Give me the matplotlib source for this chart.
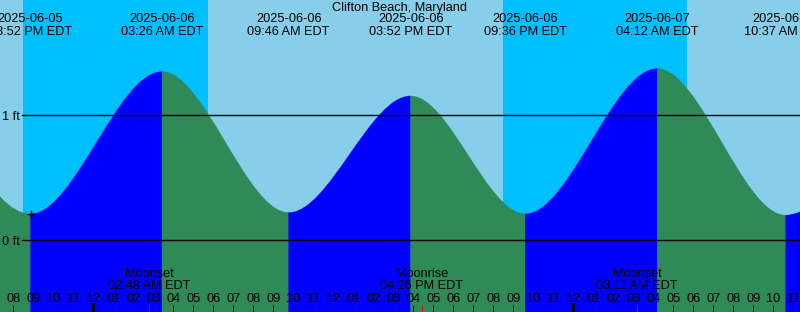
import matplotlib
matplotlib.use("Agg")
import matplotlib.pyplot as plt
import matplotlib.dates as mdates
from matplotlib.path import Path
from matplotlib.patches import PathPatch
import pandas as pd

plt.rcParams['font.family'] = ['Liberation Sans', 'DejaVu Sans']
plt.rcParams['font.size'] = 9.2

# ---------------- data ----------------
title = "Clifton Beach, Maryland"

# high / low tide events (time, height in ft)
event_times = [
    "2025-06-05 20:52", "2025-06-06 03:26", "2025-06-06 09:46", "2025-06-06 15:52",
    "2025-06-06 21:36", "2025-06-07 04:12", "2025-06-07 10:37",
]
event_heights = [0.21, 1.346, 0.221, 1.152, 0.21, 1.37, 0.20]

# water level at the left and right edges of the view
edge_times = ["2025-06-05 19:20", "2025-06-07 11:20"]
edge_heights = [0.348, 0.228]

night_starts = ["2025-06-05 20:29", "2025-06-06 20:30"]
night_ends = ["2025-06-06 05:43", "2025-06-07 05:42"]

moon_times = ["2025-06-06 02:48", "2025-06-06 16:26", "2025-06-07 03:11"]
moon_names = ["Moonset", "Moonrise", "Moonset"]

level_values = [0, 1]
level_labels = ["0 ft", "1 ft"]

y_low, y_high = -0.572, 1.918

# ---------------- colours ----------------
day_color = "#87CEEB"
night_color = "#00BFFF"
rise_color = "#0000FF"
fall_color = "#2E8B57"

W, H = 800, 312


def to_num(s):
    return mdates.date2num(pd.to_datetime(s).to_pydatetime())


fig = plt.figure(figsize=(W / 100, H / 100), dpi=100)
ax = fig.add_axes([0, 0, 1, 1])
ax.set_facecolor(day_color)
for sp in ax.spines.values():
    sp.set_visible(False)

ax.set_xlim(to_num(edge_times[0]), to_num(edge_times[1]))
ax.set_ylim(y_low, y_high)

# night bands
for s, e in zip(night_starts, night_ends):
    ax.axvspan(to_num(s), to_num(e), color=night_color, lw=0, zorder=0)

# tide curve: smooth path through the events, level (horizontal) at each extreme
ev_t = [to_num(s) for s in event_times]
pts_t = [to_num(edge_times[0])] + ev_t + [to_num(edge_times[1])]
pts_h = [edge_heights[0]] + event_heights + [edge_heights[1]]
n = len(pts_t)
bottom = y_low - 1
for k in range(n - 1):
    t0, h0, t1, h1 = pts_t[k], pts_h[k], pts_t[k + 1], pts_h[k + 1]
    col = rise_color if h1 > h0 else fall_color
    if k == 0:          # edge -> first extreme
        verts = [(t0, h0), ((t0 + t1) / 2, h1), (t1, h1)]
        codes = [Path.MOVETO, Path.CURVE3, Path.CURVE3]
    elif k == n - 2:    # last extreme -> edge
        verts = [(t0, h0), ((t0 + t1) / 2, h0), (t1, h1)]
        codes = [Path.MOVETO, Path.CURVE3, Path.CURVE3]
    else:               # extreme -> extreme
        d = (t1 - t0) / 3
        verts = [(t0, h0), (t0 + d, h0), (t1 - d, h1), (t1, h1)]
        codes = [Path.MOVETO, Path.CURVE4, Path.CURVE4, Path.CURVE4]
    verts += [(t1, bottom), (t0, bottom), (t0, h0)]
    codes += [Path.LINETO, Path.LINETO, Path.CLOSEPOLY]
    ax.add_patch(PathPatch(Path(verts, codes), facecolor=col, edgecolor=col,
                           lw=0.3, zorder=1))

# level lines
for v in level_values:
    ax.axhline(v, xmin=22 / W, xmax=1, color="black", lw=1.0, zorder=2)
ax.set_yticks(level_values)
ax.set_yticklabels(level_labels)
ax.tick_params(axis="y", length=0, pad=-14.4, labelsize=9.2)

# hour ticks
ax.xaxis.set_major_locator(mdates.DayLocator())
ax.xaxis.set_minor_locator(mdates.HourLocator())
ax.xaxis.set_major_formatter(mdates.DateFormatter("%I"))
ax.xaxis.set_minor_formatter(mdates.DateFormatter("%I"))
ax.tick_params(axis="x", which="minor", direction="in", length=5.0, width=0.72,
               pad=-14.0, labelsize=9.2, colors="black")
ax.tick_params(axis="x", which="major", direction="in", length=6.3, width=2.16,
               pad=-14.0, labelsize=9.2, colors="black")
for lab in ax.get_xticklabels(which="both"):
    lab.set_zorder(5)

# moon event ticks (red)
ax.vlines([to_num(s) for s in moon_times], 0, 7 / H, color="red", lw=0.72,
          transform=ax.get_xaxis_transform(), zorder=4)

trans = ax.get_xaxis_transform()
# top labels for tide events
for s in event_times:
    ts = pd.to_datetime(s)
    ax.text(to_num(s), 1 - 19.5 / H, ts.strftime("%Y-%m-%d"), transform=trans,
            ha="center", va="center", zorder=4)
    ax.text(to_num(s), 1 - 31.7 / H, ts.strftime("%I:%M %p") + " EDT", transform=trans,
            ha="center", va="center", zorder=4)

# moon labels
for s, nm in zip(moon_times, moon_names):
    ts = pd.to_datetime(s)
    ax.text(to_num(s), 1 - 274 / H, nm, transform=trans, ha="center", va="center", zorder=4)
    ax.text(to_num(s), 1 - 286 / H, ts.strftime("%I:%M %p") + " EDT", transform=trans,
            ha="center", va="center", zorder=4)

# title
ax.text(0.5, 1 - 8 / H, title, transform=ax.transAxes, ha="center", va="center", zorder=4)

# marker at first low tide
ax.plot([ev_t[0]], [event_heights[0]], marker="+", ms=6, mew=1,
        color="black", zorder=4)

fig.savefig("out.png", dpi=100)
